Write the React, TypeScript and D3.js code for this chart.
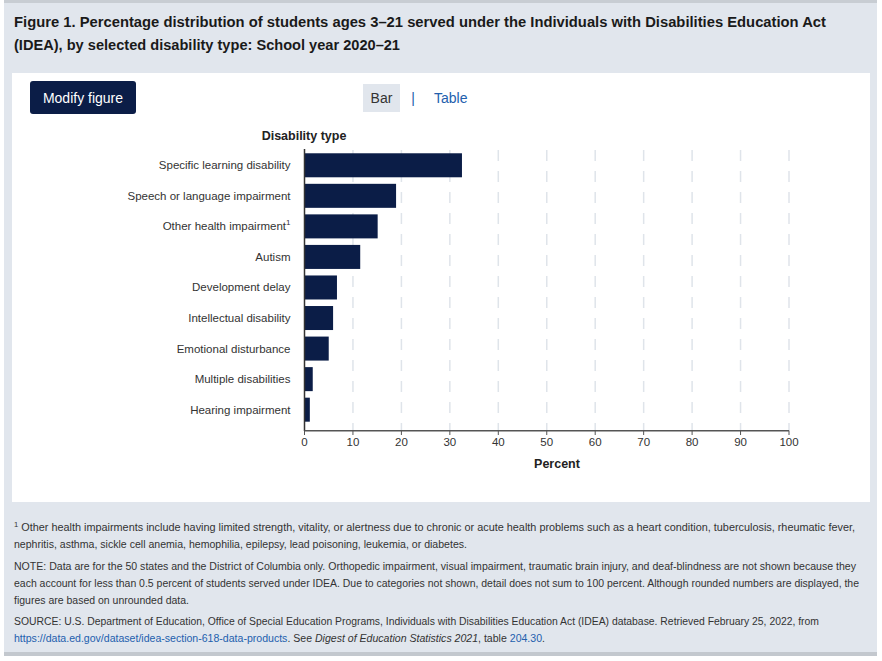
import React from "react";
import * as d3 from "d3";

const categories = [
  "Specific learning disability",
  "Speech or language impairment",
  "Other health impairment",
  "Autism",
  "Development delay",
  "Intellectual disability",
  "Emotional disturbance",
  "Multiple disabilities",
  "Hearing impairment",
];
const values = [32.5, 18.9, 15.1, 11.5, 6.7, 5.9, 5.0, 1.7, 1.1];
const footnoteCategory = "Other health impairment";
const xTicks = [0, 10, 20, 30, 40, 50, 60, 70, 80, 90, 100];

const titleLines = [
  "Figure 1. Percentage distribution of students ages 3\u201321 served under the Individuals with Disabilities Education Act",
  "(IDEA), by selected disability type: School year 2020\u201321",
];

const FONT = "'Liberation Sans', Arial, Helvetica, sans-serif";
const NAVY = "#0b1d47";
const GRAY_BG = "#e1e6ed";
const TEXT = "#333333";
const LINK = "#2360ad";

export default function App() {
  const W = 882;
  const H = 661;
  const x = d3.scaleLinear().domain([0, 100]).range([304.5, 789]);
  const y = d3
    .scaleBand<string>()
    .domain(categories)
    .range([150, 431])
    .paddingInner(0.214)
    .paddingOuter(0.206)
    .align(0.26);

  const data = categories.map((c, i) => ({ c, v: values[i] }));

  return (
    <svg
      width={W}
      height={H}
      style={{ position: "absolute", left: 0, top: 0, fontFamily: FONT }}
    >
      <rect x={0} y={0} width={W} height={H} fill="#ffffff" />
      {/* outer panel */}
      <rect x={4} y={0} width={873} height={655} fill={GRAY_BG} />
      <rect x={4} y={0} width={873} height={3} fill="#c8cdd3" />
      <rect x={4} y={652} width={873} height={4} fill="#c3c8ce" />

      {/* title */}
      <text x={14} y={27} fontSize={14.5} fontWeight="bold" fill="#1a1a1a" textLength={812} lengthAdjust="spacingAndGlyphs">
        {titleLines[0]}
      </text>
      <text x={14} y={50} fontSize={14.5} fontWeight="bold" fill="#1a1a1a" textLength={386} lengthAdjust="spacingAndGlyphs">
        {titleLines[1]}
      </text>

      {/* white chart panel */}
      <rect x={12} y={73} width={858} height={429} fill="#ffffff" />

      {/* controls */}
      <rect x={30} y={81} width={106} height={33} rx={3} fill={NAVY} />
      <text x={83} y={102.5} fontSize={14} fill="#ffffff" textAnchor="middle">
        Modify figure
      </text>
      <rect x={363} y={84} width={37} height={28} fill={GRAY_BG} />
      <text x={381.5} y={103} fontSize={14} fill={TEXT} textAnchor="middle">
        Bar
      </text>
      <text x={413} y={103} fontSize={14} fill={LINK} textAnchor="middle">
        |
      </text>
      <text x={434} y={103} fontSize={14} fill={LINK}>
        Table
      </text>

      {/* axis title top */}
      <text x={304} y={139.5} fontSize={12.5} fontWeight="bold" fill="#222" textAnchor="middle">
        Disability type
      </text>

      {/* gridlines */}
      {xTicks
        .filter((t) => t > 0)
        .map((t) => (
          <line
            key={"g" + t}
            x1={x(t)}
            x2={x(t)}
            y1={150}
            y2={431}
            stroke="#dfe4ea"
            strokeWidth={1.5}
            strokeDasharray="11,10"
          />
        ))}

      {/* bars */}
      {data.map((d) => (
        <rect
          key={d.c}
          x={x(0)}
          y={y(d.c)}
          width={x(d.v) - x(0)}
          height={y.bandwidth()}
          fill={NAVY}
        />
      ))}

      {/* category labels */}
      {data.map((d) => (
        <text
          key={"l" + d.c}
          x={290.5}
          y={(y(d.c) as number) + y.bandwidth() / 2 + 4}
          fontSize={11.5}
          fill={TEXT}
          textAnchor="end"
        >
          {d.c}
          {d.c === footnoteCategory ? (
            <tspan fontSize={8} dy={-5}>
              1
            </tspan>
          ) : null}
        </text>
      ))}

      {/* y axis line */}
      <line x1={x(0)} x2={x(0)} y1={149} y2={431} stroke="#333" strokeWidth={1.5} />
      {/* x axis */}
      <line x1={x(0)} x2={x(100)} y1={430.7} y2={430.7} stroke="#555" strokeWidth={1.5} />
      {xTicks.map((t) => (
        <g key={"t" + t}>
          <line x1={x(t)} x2={x(t)} y1={430.7} y2={435} stroke="#555" strokeWidth={1} />
          <text x={x(t)} y={445.5} fontSize={11.5} fill={TEXT} textAnchor="middle">
            {t}
          </text>
        </g>
      ))}
      <text x={557} y={467.5} fontSize={12.5} fontWeight="bold" fill="#222" textAnchor="middle">
        Percent
      </text>

      {/* footnotes */}
      <g fontSize={10} fill={TEXT}>
        <text x={14} y={530.5} textLength={841} lengthAdjust="spacingAndGlyphs">
          <tspan fontSize={7} dy={-4}>1</tspan>
          <tspan dy={4}>
            {" "}Other health impairments include having limited strength, vitality, or alertness due to chronic or acute health problems such as a heart condition, tuberculosis, rheumatic fever,
          </tspan>
        </text>
        <text x={14} y={548} textLength={453} lengthAdjust="spacingAndGlyphs">
          nephritis, asthma, sickle cell anemia, hemophilia, epilepsy, lead poisoning, leukemia, or diabetes.
        </text>
        <text x={14} y={569.5} textLength={842} lengthAdjust="spacingAndGlyphs">
          NOTE: Data are for the 50 states and the District of Columbia only. Orthopedic impairment, visual impairment, traumatic brain injury, and deaf-blindness are not shown because they
        </text>
        <text x={14} y={587} textLength={845} lengthAdjust="spacingAndGlyphs">
          each account for less than 0.5 percent of students served under IDEA. Due to categories not shown, detail does not sum to 100 percent. Although rounded numbers are displayed, the
        </text>
        <text x={14} y={604} textLength={175} lengthAdjust="spacingAndGlyphs">
          figures are based on unrounded data.
        </text>
        <text x={14} y={625} textLength={805} lengthAdjust="spacingAndGlyphs">
          SOURCE: U.S. Department of Education, Office of Special Education Programs, Individuals with Disabilities Education Act (IDEA) database. Retrieved February 25, 2022, from
        </text>
        <text x={14} y={641.5} textLength={531} lengthAdjust="spacingAndGlyphs">
          <tspan fill={LINK}>https://data.ed.gov/dataset/idea-section-618-data-products</tspan>
          <tspan>. See </tspan>
          <tspan fontStyle="italic">Digest of Education Statistics 2021</tspan>
          <tspan>, table </tspan>
          <tspan fill={LINK}>204.30</tspan>
          <tspan>.</tspan>
        </text>
      </g>
    </svg>
  );
}
